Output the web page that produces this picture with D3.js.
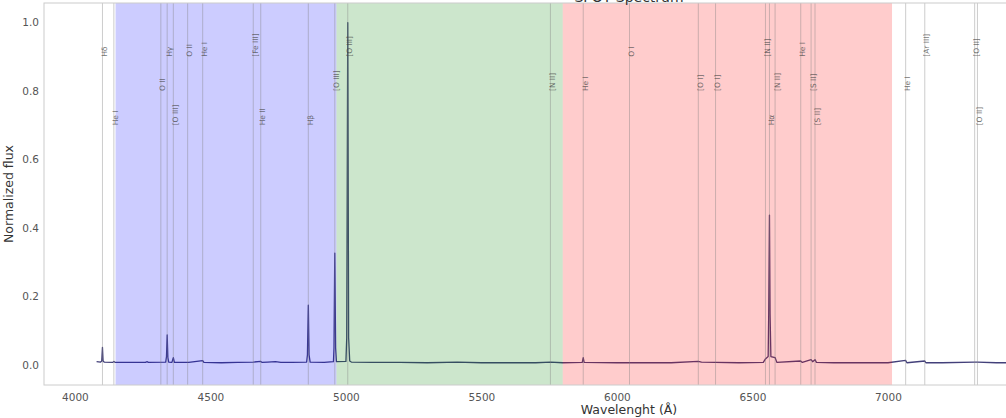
<!DOCTYPE html>
<html>
<head>
<meta charset="utf-8">
<script src="https://cdn.jsdelivr.net/npm/d3@7"></script>
<style>
  html, body { margin: 0; padding: 0; background: #ffffff; }
  svg { display: block; font-family: "DejaVu Sans", sans-serif; }
</style>
</head>
<body>
<div id="chart"></div>
<script>
// Spectrum samples: wavelength (Å) and normalized flux
const specWave = [4080, 4095, 4099, 4101.7, 4104, 4108, 4140, 4144, 4148, 4200, 4260, 4267, 4271,
  4335, 4338, 4340.5, 4343, 4346, 4358, 4363.2, 4367, 4420, 4471.5, 4476, 4540, 4600, 4658, 4686,
  4690, 4711, 4740, 4760, 4800, 4855, 4858, 4861.3, 4864, 4868, 4920, 4954, 4956, 4958.9, 4962,
  4965, 5000, 5003, 5006.8, 5010, 5014, 5020, 5100, 5200, 5300, 5411, 5500, 5600, 5700, 5755,
  5800, 5872, 5875.6, 5879, 6000, 6100, 6200, 6300, 6312, 6364, 6450, 6540, 6548, 6558, 6560,
  6562.8, 6565, 6568, 6583.5, 6590, 6678, 6684, 6716.4, 6722, 6730.8, 6736, 6800, 6900, 7000,
  7065, 7070, 7136, 7140, 7200, 7320, 7330, 7400, 7500, 7600, 7700, 7800, 7900, 7960];
const specFlux = [0.010, 0.009, 0.012, 0.052, 0.012, 0.009, 0.008, 0.011, 0.008, 0.008, 0.008, 0.010, 0.008,
  0.009, 0.025, 0.088, 0.022, 0.009, 0.008, 0.022, 0.008, 0.008, 0.013, 0.008, 0.007, 0.008, 0.009, 0.011,
  0.008, 0.009, 0.010, 0.008, 0.008, 0.009, 0.030, 0.175, 0.030, 0.009, 0.008, 0.010, 0.050, 0.327, 0.050,
  0.010, 0.011, 0.080, 1.000, 0.080, 0.012, 0.009, 0.008, 0.008, 0.007, 0.009, 0.007, 0.007, 0.007, 0.009,
  0.007, 0.008, 0.022, 0.008, 0.007, 0.007, 0.007, 0.011, 0.009, 0.008, 0.007, 0.008, 0.018, 0.025, 0.150,
  0.438, 0.150, 0.025, 0.022, 0.008, 0.012, 0.008, 0.016, 0.010, 0.016, 0.008, 0.007, 0.007, 0.007,
  0.014, 0.007, 0.012, 0.007, 0.007, 0.009, 0.009, 0.007, 0.007, 0.007, 0.007, 0.007, 0.007, 0.007];

// Identified emission lines
const lineWaves = [4101.7, 4143.8, 4317.1, 4340.5, 4363.2, 4416.0, 4471.5, 4658.1, 4685.7, 4861.3,
  4958.9, 5006.8, 5754.6, 5875.6, 6046.4, 6300.3, 6363.8, 6548.0, 6562.8, 6583.5, 6678.2, 6716.4,
  6730.8, 7065.3, 7135.8, 7319.9, 7330.2];
const lineNames = ["Hδ", "He I", "O II", "Hγ", "[O III]", "O II", "He I", "[Fe III]", "He II", "Hβ",
  "[O III]", "[O III]", "[N II]", "He I", "O I", "[O I]", "[O I]", "[N II]", "Hα", "[N II]", "He I", "[S II]",
  "[S II]", "He I", "[Ar III]", "[O II]", "[O II]"];
const labelLevels = [0.9, 0.7, 0.8, 0.9, 0.7, 0.9, 0.9, 0.9, 0.7, 0.7,
  0.8, 0.9, 0.8, 0.8, 0.9, 0.8, 0.8, 0.9, 0.7, 0.8, 0.9, 0.8,
  0.7, 0.8, 0.9, 0.9, 0.7];

// Wavelength bands
const bandStarts = [4150, 4965, 5800];
const bandEnds = [4965, 5800, 7015];
const bandColors = ["#0000ff", "#008000", "#ff0000"];

const xTicks = [4000, 4500, 5000, 5500, 6000, 6500, 7000, 7500];
const yTicks = [0.0, 0.2, 0.4, 0.6, 0.8, 1.0];

const W = 1006, H = 418;
const mLeft = 44, mRight = 1214, mTop = 3, mBottom = 385;

const svg = d3.select("#chart").append("svg").attr("width", W).attr("height", H);

const x = d3.scaleLinear().domain([3886, 8203]).range([mLeft, mRight]);
const y = d3.scaleLinear().domain([-0.058, 1.057]).range([mBottom, mTop]);

const plot = svg.append("g");
plot.append("clipPath").attr("id", "clip")
  .append("rect").attr("x", mLeft).attr("y", mTop).attr("width", mRight - mLeft).attr("height", mBottom - mTop);

// spectrum
const specLine = d3.line().x((d, i) => x(specWave[i])).y((d, i) => y(specFlux[i]));
plot.append("path")
  .datum(specWave)
  .attr("clip-path", "url(#clip)")
  .attr("d", specLine)
  .attr("fill", "none")
  .attr("stroke", "#43407a")
  .attr("stroke-width", 1.3)
  .attr("stroke-linejoin", "round");

// bands
plot.selectAll("rect.band").data(bandStarts).enter().append("rect")
  .attr("class", "band")
  .attr("x", (d, i) => x(d))
  .attr("width", (d, i) => x(bandEnds[i]) - x(d))
  .attr("y", mTop).attr("height", mBottom - mTop)
  .attr("fill", (d, i) => bandColors[i])
  .attr("fill-opacity", 0.2);

// line markers
plot.selectAll("line.em").data(lineWaves).enter().append("line")
  .attr("class", "em")
  .attr("x1", d => x(d)).attr("x2", d => x(d))
  .attr("y1", mTop).attr("y2", mBottom)
  .attr("stroke", "#808080").attr("stroke-opacity", 0.5).attr("stroke-width", 0.8);

plot.selectAll("text.em").data(lineWaves).enter().append("text")
  .attr("class", "em")
  .attr("transform", (d, i) => `translate(${x(d) + 2},${y(labelLevels[i])}) rotate(-90)`)
  .attr("dominant-baseline", "central")
  .attr("font-size", 7.5)
  .attr("fill", "#444")
  .attr("fill-opacity", 0.75)
  .text((d, i) => lineNames[i]);

// frame
svg.append("rect").attr("x", mLeft).attr("y", mTop).attr("width", mRight - mLeft).attr("height", mBottom - mTop)
  .attr("fill", "none").attr("stroke", "#cccccc").attr("stroke-width", 1);

// axes
const xAxis = svg.append("g").attr("transform", `translate(0,${mBottom})`)
  .call(d3.axisBottom(x).tickValues(xTicks).tickSize(0).tickPadding(9).tickFormat(d3.format("d")));
const yAxis = svg.append("g").attr("transform", `translate(${mLeft},0)`)
  .call(d3.axisLeft(y).tickValues(yTicks).tickSize(0).tickPadding(5).tickFormat(d3.format(".1f")));
[xAxis, yAxis].forEach(a => {
  a.select(".domain").remove();
  a.selectAll("text").attr("font-size", 10.5).attr("fill", "#555").attr("font-family", "DejaVu Sans");
});

// axis titles
svg.append("text").attr("x", (mLeft + mRight) / 2).attr("y", 414)
  .attr("text-anchor", "middle").attr("font-size", 12.5).attr("fill", "#333")
  .text("Wavelenght (Å)");
svg.append("text").attr("transform", `translate(13,${(mTop + mBottom) / 2}) rotate(-90)`)
  .attr("text-anchor", "middle").attr("font-size", 12.5).attr("fill", "#333")
  .text("Normalized flux");

// title
svg.append("text").attr("x", (mLeft + mRight) / 2).attr("y", 2)
  .attr("text-anchor", "middle").attr("font-size", 14).attr("fill", "#333")
  .text("SPOT Spectrum");
</script>
</body>
</html>
